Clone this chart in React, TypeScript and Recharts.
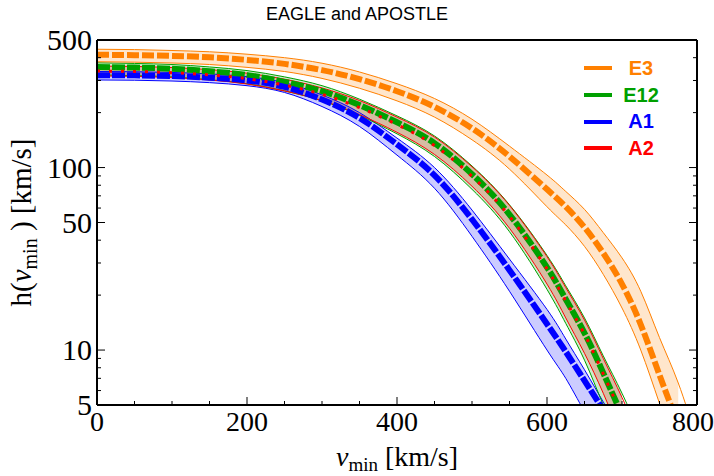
import React from 'react';
import { ComposedChart, Line, Area, XAxis, YAxis, Legend } from 'recharts';

// ---------- data ----------
const vmin = [0, 50, 100, 150, 200, 250, 300, 350, 400, 450, 500, 550, 600, 625, 650, 675, 700, 725, 750, 775, 800];

const e3Mid = [415, 413, 409, 402, 389, 370, 342, 305, 262, 215, 164, 115, 76, 61, 47, 34, 23, 13.8, 7.3, 3.9, null];
const e3Hi = [445, 443, 438, 431, 418, 400, 373, 334, 288, 239, 184, 131, 91, 74, 59, 44, 32, 21, 11.7, 6.6, 3.2];
const e3Lo = [380, 378, 374, 367, 354, 336, 308, 272, 232, 189, 142, 98, 61, 48.5, 37, 26, 17, 10, 5.1, 2.6, null];

const e12Mid = [356, 353, 348, 337, 321, 295, 262, 220, 177, 136, 92, 55.3, 28.4, 19, 12.4, 7.5, 4.4, null, null, null, null];
const e12Hi = [375, 372, 367, 356, 340, 314, 281, 237, 192, 149, 102, 62.5, 33, 22.5, 15, 9.3, 5.8, 3.4, null, null, null];
const e12Lo = [322, 319, 314, 303, 288, 263, 232, 193, 153, 115, 76, 44.5, 21.5, 14, 8.8, 5, 2.9, null, null, null, null];

const a1Mid = [321, 320, 317, 311, 300, 277, 236, 187, 134, 90.6, 52, 27.4, 13.9, 9.8, 6.8, 4.7, 3.2, null, null, null, null];
const a1Hi = [336, 335, 332, 326, 315, 292, 250, 200, 145, 100, 58.5, 31.5, 16.7, 11.5, 7.8, 5.2, 3.5, null, null, null, null];
const a1Lo = [302, 301, 298, 292, 281, 258, 216, 168, 117, 77, 42, 21, 10, 7, 4.6, 3.1, null, null, null, null, null];

const a2Mid = [338, 336, 331, 322, 307, 283, 252, 213, 172, 132, 89.5, 54, 27.8, 18.6, 12.2, 7.4, 4.4, null, null, null, null];
const a2Hi = [360, 358, 353, 344, 329, 305, 273, 233, 189, 147, 101, 62, 32.5, 22, 14.6, 9, 5.5, 3.2, null, null, null];
const a2Lo = [318, 316, 311, 302, 287, 263, 233, 195, 156, 118, 79, 46.5, 23, 15, 9.6, 5.8, 3.3, null, null, null, null];

const seriesNames = ['E3', 'E12', 'A1', 'A2'];
const seriesColors = ['#FF8000', '#00A000', '#0000FF', '#FF0000'];

const xTicks = [0, 50, 100, 150, 200, 250, 300, 350, 400, 450, 500, 550, 600, 650, 700, 750, 800];
const xMajor = [0, 200, 400, 600, 800];
const yTicks = [5, 6, 7, 8, 9, 10, 20, 30, 40, 50, 60, 70, 80, 90, 100, 200, 300, 400, 500];
const yMajor = [5, 10, 50, 100, 500];

const title = 'EAGLE and APOSTLE';

// ---------- table ----------
const band = (lo: (number | null)[], hi: (number | null)[], i: number) =>
  lo[i] != null && hi[i] != null ? [lo[i], hi[i]] : null;

const data = vmin.map((v, i) => ({
  v,
  e3Mid: e3Mid[i], e3Hi: e3Hi[i], e3Lo: e3Lo[i], e3Band: band(e3Lo, e3Hi, i),
  e12Mid: e12Mid[i], e12Hi: e12Hi[i], e12Lo: e12Lo[i], e12Band: band(e12Lo, e12Hi, i),
  a1Mid: a1Mid[i], a1Hi: a1Hi[i], a1Lo: a1Lo[i], a1Band: band(a1Lo, a1Hi, i),
  a2Mid: a2Mid[i], a2Hi: a2Hi[i], a2Lo: a2Lo[i], a2Band: band(a2Lo, a2Hi, i),
}));

const SERIF = "'Liberation Serif', 'Times New Roman', serif";
const SANS = "'Liberation Sans', Arial, sans-serif";
const XFS = 28;
const YFS = 30;
const LFS = 29;
const CURVE = 'natural';

// ---------- ticks ----------
const XTickBottom = (props: any) => {
  const { x, y, payload } = props;
  const major = xMajor.includes(payload.value);
  const last = payload.value === 800;
  return (
    <g>
      <line x1={x} x2={x} y1={y} y2={y - (major ? 8 : 4)} stroke="#000" strokeWidth={1} />
      {major && (
        <text x={last ? x + 17 : x} y={y + 26} textAnchor={last ? 'end' : 'middle'} fontFamily={SERIF} fontSize={XFS} fill="#000">
          {payload.value}
        </text>
      )}
    </g>
  );
};
const XTickTop = (props: any) => {
  const { x, y, payload } = props;
  const major = xMajor.includes(payload.value);
  return <line x1={x} x2={x} y1={y} y2={y + (major ? 8 : 4)} stroke="#000" strokeWidth={1} />;
};
const YTickLeft = (props: any) => {
  const { x, y, payload } = props;
  const major = yMajor.includes(payload.value);
  return (
    <g>
      <line x1={x} x2={x + (major ? 8 : 4)} y1={y} y2={y} stroke="#000" strokeWidth={1} />
      {major && (
        <text x={x - 5} y={y + 10} textAnchor="end" fontFamily={SERIF} fontSize={YFS} fill="#000">
          {payload.value}
        </text>
      )}
    </g>
  );
};
const YTickRight = (props: any) => {
  const { x, y, payload } = props;
  const major = yMajor.includes(payload.value);
  return <line x1={x} x2={x - (major ? 8 : 4)} y1={y} y2={y} stroke="#000" strokeWidth={1} />;
};

// ---------- labels ----------
const YLabel = (props: any) => {
  const vb = props.viewBox || { x: 0, y: 40, width: 97, height: 365 };
  const bx = vb.x + 31;
  const cy = vb.y + vb.height / 2;
  return (
    <text x={bx} y={cy} transform={`rotate(-90, ${bx}, ${cy})`} textAnchor="middle" fontFamily={SERIF} fontSize={LFS} fill="#000">
      h(<tspan fontStyle="italic">v</tspan>
      <tspan fontSize={20} dy={6}>min</tspan>
      <tspan dy={-6}> ) [km/s]</tspan>
    </text>
  );
};
const XLabel = (props: any) => {
  const vb = props.viewBox || { x: 97, y: 405, width: 600, height: 71 };
  const cx = vb.x + vb.width / 2;
  const by = vb.y + 61;
  return (
    <text x={cx} y={by} textAnchor="middle" fontFamily={SERIF} fontSize={XFS} fill="#000">
      <tspan fontStyle="italic">v</tspan>
      <tspan fontSize={19} dy={5}>min</tspan>
      <tspan dy={-5}> [km/s]</tspan>
    </text>
  );
};

const renderLegend = () => (
  <div style={{ fontFamily: SANS, fontWeight: 'bold', fontSize: 20 }}>
    {seriesNames.map((n, i) => (
      <div key={n} style={{ display: 'flex', alignItems: 'center', height: 26.7 }}>
        <div style={{ width: 28, height: 4, background: seriesColors[i] }} />
        <div style={{ width: 58, textAlign: 'center', color: seriesColors[i] }}>{n}</div>
      </div>
    ))}
  </div>
);

const keys = ['e3', 'e12', 'a1', 'a2'];
const dashes = ['12 3', '13 2', '13 2', '3 9'];
const widths = [6, 6, 6, 3];

export default function App() {
  return (
    <div style={{ position: 'absolute', left: 0, top: 0, width: 714, height: 476, background: '#fff' }}>
      <div style={{ position: 'absolute', left: 0, top: 3, width: 714, textAlign: 'center', fontFamily: SANS, fontSize: 18, lineHeight: '22px', color: '#000', zIndex: 2 }}>
        {title}
      </div>
      <ComposedChart width={714} height={476} data={data} margin={{ top: 0, right: 0, bottom: 0, left: 0 }}>
        <XAxis
          dataKey="v" type="number" domain={[0, 800]} ticks={xTicks} interval={0}
          height={71} tickSize={0} tickMargin={0} tick={<XTickBottom />} tickLine={false}
          axisLine={{ stroke: '#000', strokeWidth: 2 }} allowDataOverflow label={<XLabel />}
        />
        <XAxis
          xAxisId="t" orientation="top" type="number" domain={[0, 800]} ticks={xTicks} interval={0}
          height={40} tickSize={0} tickMargin={0} tick={<XTickTop />} tickLine={false}
          axisLine={{ stroke: '#000', strokeWidth: 2 }} allowDataOverflow
        />
        <YAxis
          type="number" scale="log" domain={[5, 500]} ticks={yTicks} interval={0} allowDataOverflow
          width={97} tickSize={0} tickMargin={0} tick={<YTickLeft />} tickLine={false}
          axisLine={{ stroke: '#000', strokeWidth: 2 }} label={<YLabel />}
        />
        <YAxis
          yAxisId="r" orientation="right" type="number" scale="log" domain={[5, 500]} ticks={yTicks} interval={0}
          allowDataOverflow width={17} tickSize={0} tickMargin={0} tick={<YTickRight />} tickLine={false}
          axisLine={{ stroke: '#000', strokeWidth: 2 }}
        />
        <Legend
          content={renderLegend} layout="vertical" align="center" verticalAlign="middle"
          wrapperStyle={{ left: 584, top: 55, width: 90 }}
        />
        {keys.map((k, i) => (
          <Area
            key={k + 'band'} dataKey={k + 'Band'} type={CURVE} stroke="none"
            fill={seriesColors[i]} fillOpacity={0.2} isAnimationActive={false} connectNulls={false}
          />
        ))}
        {keys.map((k, i) => (
          <Line key={k + 'hi'} dataKey={k + 'Hi'} type={CURVE} stroke={seriesColors[i]} strokeWidth={1}
            dot={false} isAnimationActive={false} connectNulls={false} />
        ))}
        {keys.map((k, i) => (
          <Line key={k + 'lo'} dataKey={k + 'Lo'} type={CURVE} stroke={seriesColors[i]} strokeWidth={1}
            dot={false} isAnimationActive={false} connectNulls={false} />
        ))}
        {keys.map((k, i) => (
          <Line key={k + 'mid'} dataKey={k + 'Mid'} type={CURVE} stroke={seriesColors[i]} strokeWidth={widths[i]}
            strokeDasharray={dashes[i]} dot={false} isAnimationActive={false} connectNulls={false} />
        ))}
      </ComposedChart>
    </div>
  );
}
